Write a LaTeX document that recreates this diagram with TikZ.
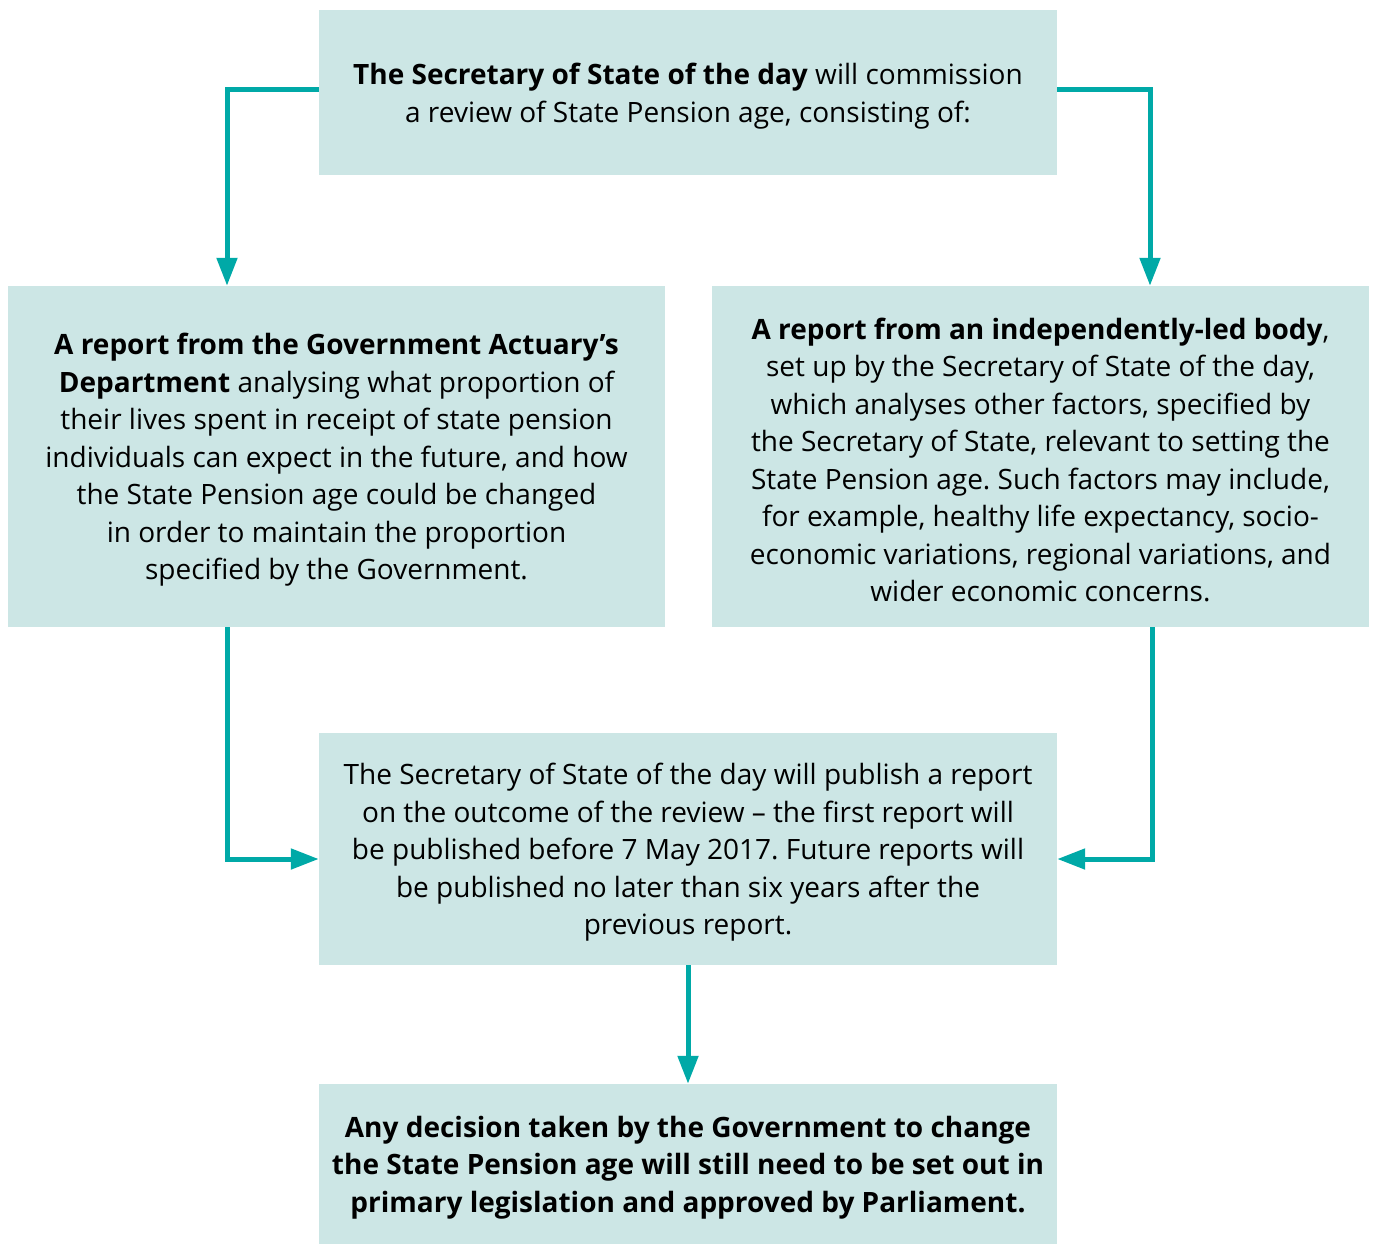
\documentclass[tikz,border=0pt]{standalone}
\usepackage{fontspec}
\setmainfont{Open Sans}
\usetikzlibrary{arrows.meta}
\definecolor{boxfill}{HTML}{CCE6E5}
\definecolor{arrowteal}{HTML}{00A9A7}
\tikzset{
  panel/.style={fill=boxfill,inner sep=0pt},
  words/.style={inner sep=0pt,align=center,font=\fontsize{28}{37.5}\selectfont\frenchspacing},
  link/.style={draw=arrowteal,line width=5pt,-{Triangle[width=20pt,length=28pt]}}
}
\begin{document}
\begin{tikzpicture}[x=1pt,y=-1pt]
\useasboundingbox (0,0) rectangle (1375,1245);

    % boxes
    \node[panel,minimum width=738pt,minimum height=165pt] (top) at (688,92.5) {};
    \node[panel,minimum width=657pt,minimum height=341pt] (gad) at (336.5,456.5) {};
    \node[panel,minimum width=657pt,minimum height=341pt] (body) at (1040.5,456.5) {};
    \node[panel,minimum width=738pt,minimum height=232pt] (publish) at (688,849) {};
    \node[panel,minimum width=738pt,minimum height=160pt] (decision) at (688,1164) {};

    % texts
    \node[words] (toptext) at ([yshift=-3.5pt]top.center)
      {\textbf{The Secretary of State of the day} will commission\\a review of State Pension age, consisting of:};
    \node[words] (gadtext) at ([yshift=-3.5pt]gad.center)
      {\textbf{A report from the Government Actuary's}\\\textbf{Department} analysing what proportion of\\their lives spent in receipt of state pension\\individuals can expect in the future, and how\\the State Pension age could be changed\\in order to maintain the proportion\\specified by the Government.};
    \node[words] (bodytext) at ([yshift=-3.5pt]body.center)
      {\textbf{A report from an independently-led body},\\set up by the Secretary of State of the day,\\which analyses other factors, specified by\\the Secretary of State, relevant to setting the\\State Pension age. Such factors may include,\\for example, healthy life expectancy, socio-\\economic variations, regional variations, and\\wider economic concerns.};
    \node[words] (publishtext) at ([yshift=-3.5pt]publish.center)
      {The Secretary of State of the day will publish a report\\on the outcome of the review -- the first report will\\be published before 7 May 2017. Future reports will\\be published no later than six years after the\\previous report.};
    \node[words] (decisiontext) at ([yshift=-3.5pt]decision.center)
      {\textbf{Any decision taken by the Government to change}\\\textbf{the State Pension age will still need to be set out in}\\\textbf{primary legislation and approved by Parliament.}};

    % connectors
    \draw[link] (top.west |- 0,89) -| (gad.north -| 227,0);
    \draw[link] (top.east |- 0,89) -| (body.north -| 1150,0);
    \draw[link] (gad.south -| 227,0) |- (publish.west |- 0,859);
    \draw[link] (body.south -| 1152,0) |- (publish.east |- 0,859);
    \draw[link] (publish.south) -- (decision.north);

\end{tikzpicture}
\end{document}
